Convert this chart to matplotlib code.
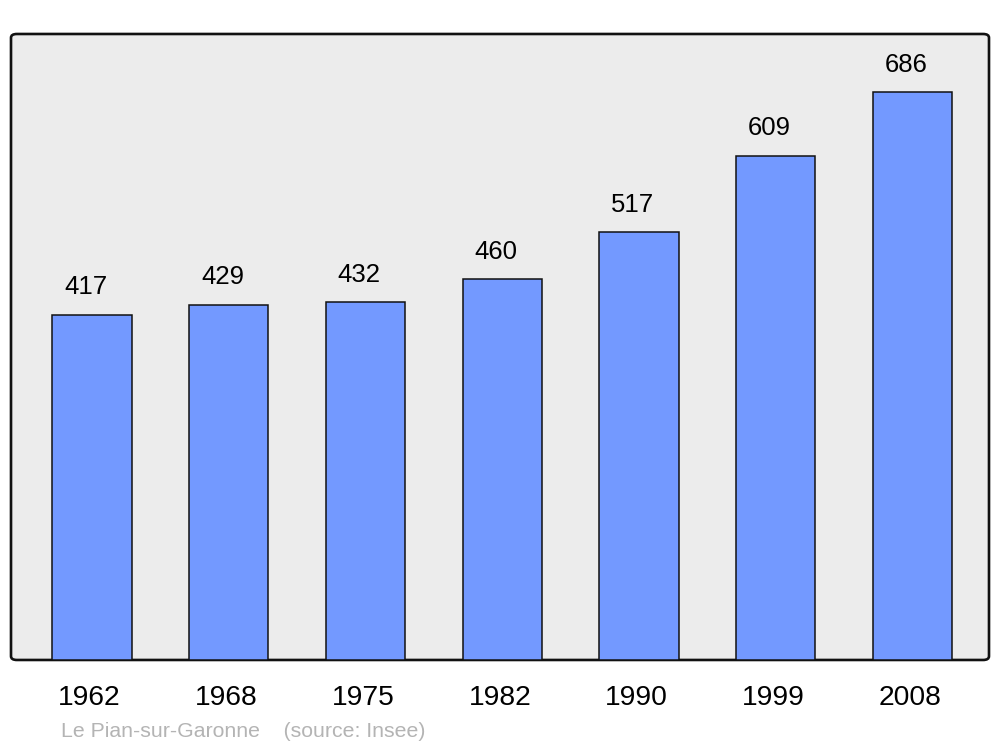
import matplotlib
matplotlib.use("Agg")
import matplotlib.pyplot as plt
import matplotlib.transforms as mtransforms
from matplotlib.patches import FancyBboxPatch

plt.rcParams['font.family'] = ['Liberation Sans', 'DejaVu Sans']

# données
annees = ['1962', '1968', '1975', '1982', '1990', '1999', '2008']
population = [417, 429, 432, 460, 517, 609, 686]
commune = 'Le Pian-sur-Garonne'

fig = plt.figure(figsize=(10, 7.47), dpi=100, facecolor='white')
ax = fig.add_axes([0.011, 0.1165, 0.978, 0.838])
ax.set_facecolor('none')

# fond gris avec coins arrondis
fond = FancyBboxPatch((0, 0), 1, 1, boxstyle='round,pad=0,rounding_size=0.006',
                      transform=ax.transAxes, facecolor='#ececec',
                      edgecolor='#111111', linewidth=1.9, zorder=0, clip_on=False)
ax.add_patch(fond)

x = list(range(len(annees)))
barres = ax.bar(x, population, width=0.58, color='#7399ff',
                edgecolor='#111111', linewidth=1.1, zorder=2)

for xi, v in zip(x, population):
    ax.annotate(str(v), (xi, v), xytext=(-4.5, 11), textcoords='offset points',
                ha='center', va='bottom', fontsize=18.5, color='black')

ax.set_xlim(-0.593, 6.56)
ax.set_ylim(0, 756)
ax.set_xticks(x)
ax.set_xticklabels(annees, fontsize=20.3)
ax.tick_params(axis='x', length=0, pad=18)
decalage = mtransforms.ScaledTranslation(-2.5 / 100, 0, fig.dpi_scale_trans)
for lab in ax.get_xticklabels():
    lab.set_transform(lab.get_transform() + decalage)
ax.set_yticks([])
for s in ax.spines.values():
    s.set_visible(False)

fig.text(0.061, 0.008, commune + '    (source: Insee)', fontsize=15.3,
         color='#b4b4b4', ha='left', va='bottom')

plt.savefig('out.png', dpi=100)
